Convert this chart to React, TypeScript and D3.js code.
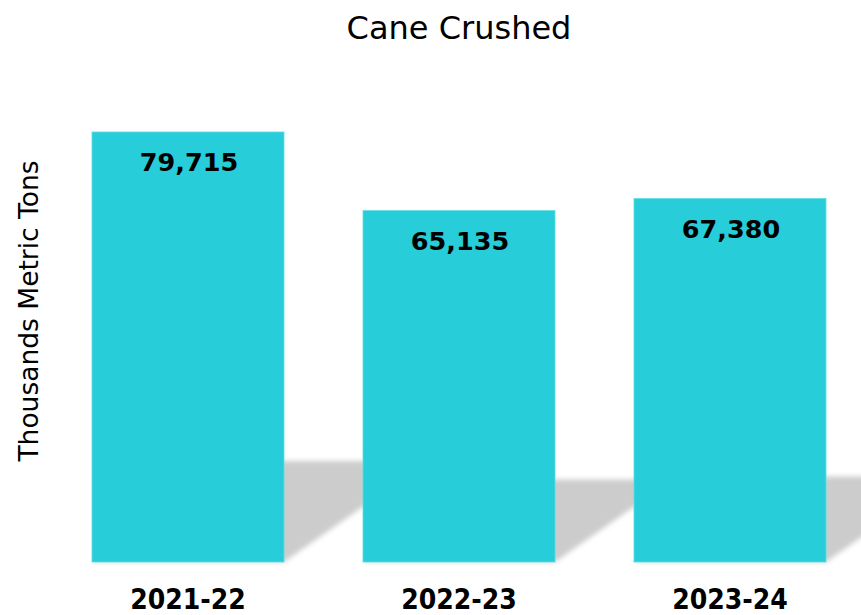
import React, { useEffect, useRef } from 'react';
import * as d3 from 'd3';

const seasons = ['2021-22', '2022-23', '2023-24'];
const caneCrushed = [79715, 65135, 67380];
const chartTitle = 'Cane Crushed';
const yTitle = 'Thousands Metric Tons';

const App = () => {
  const ref = useRef<SVGSVGElement>(null);

  useEffect(() => {
    const width = 861;
    const height = 615;
    const svg = d3.select(ref.current);
    svg.selectAll('*').remove();

    const x = d3.scaleBand()
      .domain(seasons)
      .range([92, 826])
      .paddingInner(0.2915)
      .paddingOuter(0);

    const y = d3.scaleLinear()
      .domain([0, 90000])
      .range([562, 76.5]);

    const defs = svg.append('defs');
    defs.append('filter')
      .attr('id', 'shadowBlur')
      .attr('x', '-20%').attr('y', '-20%')
      .attr('width', '140%').attr('height', '140%')
      .append('feGaussianBlur')
      .attr('stdDeviation', 2.6);

    const data = seasons.map((s, i) => ({ season: s, value: caneCrushed[i] }));

    // floor shadows, drawn first so the bars sit on top
    svg.append('g').selectAll('path')
      .data(data)
      .enter().append('path')
      .attr('d', d => {
        const x0 = x(d.season)!;
        const x1 = x0 + x.bandwidth();
        const b = y(0);
        const h = y(0) - y(d.value);
        const sh = h * 0.235;
        const sx = sh / 0.7;
        return `M${x0},${b}L${x1},${b}L${x1 + sx},${b - sh}L${x0 + sx},${b - sh}Z`;
      })
      .attr('fill', '#cccccc')
      .attr('filter', 'url(#shadowBlur)');

    svg.append('g').selectAll('rect')
      .data(data)
      .enter().append('rect')
      .attr('x', d => x(d.season)!)
      .attr('y', d => y(d.value))
      .attr('width', x.bandwidth())
      .attr('height', d => y(0) - y(d.value))
      .attr('fill', '#27cdd8')
      .attr('stroke', '#5fdde5')
      .attr('stroke-width', 0.8);

    svg.append('g').selectAll('text')
      .data(data)
      .enter().append('text')
      .attr('x', d => x(d.season)! + x.bandwidth() / 2 + 1)
      .attr('y', d => y(d.value) + 39)
      .attr('text-anchor', 'middle')
      .attr('font-family', '"DejaVu Sans", sans-serif')
      .attr('font-weight', 'bold')
      .attr('font-size', 25.5)
      .attr('fill', '#000')
      .text(d => d3.format(',')(d.value));

    const xAxis = svg.append('g')
      .attr('transform', `translate(0, ${y(0)})`)
      .call(d3.axisBottom(x).tickSize(0).tickPadding(0));
    xAxis.select('.domain').remove();
    xAxis.selectAll('text')
      .attr('y', 47)
      .attr('dy', 0)
      .attr('fill', '#000')
      .attr('font-family', '"DejaVu Sans Condensed", "DejaVu Sans", sans-serif')
      .attr('font-weight', 'bold')
      .attr('font-size', 28);

    svg.append('text')
      .attr('x', 459)
      .attr('y', 39)
      .attr('text-anchor', 'middle')
      .attr('font-family', '"DejaVu Sans", sans-serif')
      .attr('font-size', 32)
      .attr('fill', '#000')
      .text(chartTitle);

    svg.append('text')
      .attr('transform', `translate(38, ${311}) rotate(-90)`)
      .attr('text-anchor', 'middle')
      .attr('font-family', '"DejaVu Sans", sans-serif')
      .attr('font-size', 26.5)
      .attr('fill', '#000')
      .text(yTitle);

    svg.attr('width', width).attr('height', height);
  }, []);

  return (
    <svg ref={ref} width={861} height={615}
      style={{ position: 'absolute', left: 0, top: 0, background: '#fff' }} />
  );
};

export default App;
